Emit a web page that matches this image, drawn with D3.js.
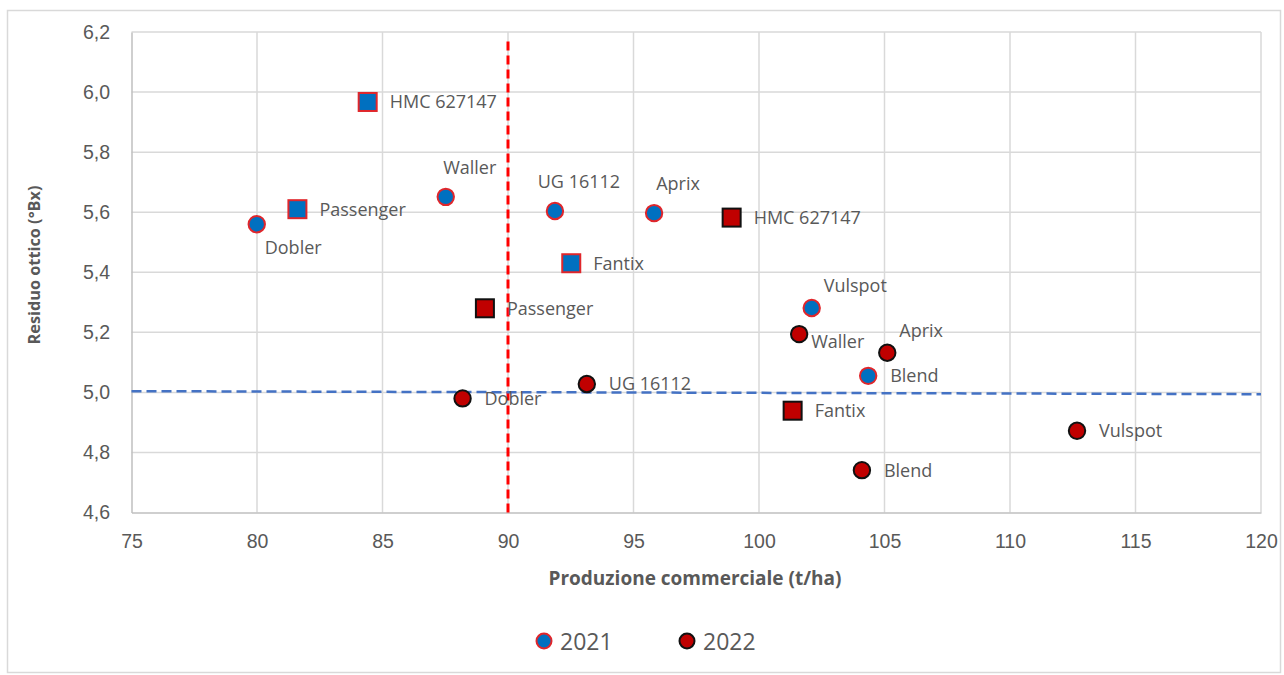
<!DOCTYPE html>
<html>
<head>
<meta charset="utf-8">
<script src="https://cdn.jsdelivr.net/npm/d3@7"></script>
<style>
  html, body { margin: 0; padding: 0; background: #ffffff; }
  svg { display: block; font-family: "Open Sans", "Noto Sans", sans-serif; }
</style>
</head>
<body>
<svg id="chart" width="1284" height="675"></svg>
<script>
// Varieties and their marker shapes
const varieties = ["Dobler", "Passenger", "HMC 627147", "Waller", "UG 16112", "Aprix", "Fantix", "Vulspot", "Blend"];
const shapes    = ["circle", "square", "square", "circle", "circle", "circle", "square", "circle", "circle"];

// Commercial yield (t/ha) and optical residue (°Bx) per year
const prod2021 = [79.99, 81.61, 84.41, 87.52, 91.87, 95.82, 92.52, 102.1, 104.35];
const brix2021 = [5.560, 5.610, 5.967, 5.651, 5.604, 5.597, 5.430, 5.281, 5.055];
const prod2022 = [88.19, 89.08, 98.91, 101.6, 93.14, 105.11, 101.34, 112.67, 104.10];
const brix2022 = [4.980, 5.280, 5.582, 5.194, 5.028, 5.132, 4.939, 4.872, 4.741];

// Where each label sits relative to its marker
const labelPos2021 = ["below", "right", "right", "above", "above", "above", "right", "aboveRight", "right"];
const labelPos2022 = ["right", "right", "right", "rightLow", "right", "aboveRight", "right", "right", "right"];

// Axis ticks
const xTicks = [75, 80, 85, 90, 95, 100, 105, 110, 115, 120];
const yTicks = [4.6, 4.8, 5.0, 5.2, 5.4, 5.6, 5.8, 6.0, 6.2];

// Reference thresholds
const yieldThresholdX = [90, 90];
const yieldThresholdY = [4.6, 6.18];
const brixThresholdX = [75, 120];
const brixThresholdY = [5.004, 4.994];

const years = ["2021", "2022"];

const svg = d3.select("#chart");
const itLocale = d3.formatLocale({ decimal: ",", thousands: ".", grouping: [3], currency: ["€", ""] });
const fmtY = itLocale.format(".1f");

const plot = { left: 131.5, right: 1261, top: 32, bottom: 512.5 };
const x = d3.scaleLinear().domain([75, 120]).range([plot.left, plot.right]);
const y = d3.scaleLinear().domain([4.6, 6.2]).range([plot.bottom, plot.top]);

// Outer frame
svg.append("rect")
  .attr("x", 7.5).attr("y", 10.5).attr("width", 1273).attr("height", 662)
  .attr("fill", "none").attr("stroke", "#d9d9d9").attr("stroke-width", 1.5);

// Grid
const grid = svg.append("g");
grid.selectAll("line.gx").data(xTicks.slice(1)).join("line")
  .attr("x1", d => x(d)).attr("x2", d => x(d))
  .attr("y1", y(6.2)).attr("y2", y(4.6))
  .attr("stroke", "#d9d9d9").attr("stroke-width", 1.5);
grid.selectAll("line.gy").data(yTicks.slice(1)).join("line")
  .attr("x1", x(75)).attr("x2", x(120))
  .attr("y1", d => y(d)).attr("y2", d => y(d))
  .attr("stroke", "#d9d9d9").attr("stroke-width", 1.5);

// Axes
const xAxis = d3.axisBottom(x).tickValues(xTicks).tickSize(0).tickPadding(22).tickFormat(d3.format("d"));
const gx = svg.append("g").attr("transform", `translate(0,${y(4.6)})`).call(xAxis);
gx.select(".domain").attr("stroke", "#bfbfbf").attr("stroke-width", 1.5);
gx.selectAll("text").attr("fill", "#595959").attr("font-size", 19.5);

const yAxis = d3.axisLeft(y).tickValues(yTicks).tickSize(0).tickPadding(21.5).tickFormat(fmtY);
const gy = svg.append("g").attr("transform", `translate(${x(75)},0)`).call(yAxis);
gy.select(".domain").attr("stroke", "#bfbfbf").attr("stroke-width", 1.5);
gy.selectAll("text").attr("fill", "#595959").attr("font-size", 19.5);

// Axis titles
svg.append("text")
  .attr("x", 695).attr("y", 585)
  .attr("text-anchor", "middle").attr("font-size", 19).attr("font-weight", "bold")
  .attr("fill", "#595959").text("Produzione commerciale (t/ha)");
svg.append("text")
  .attr("transform", "translate(40,265) rotate(-90)")
  .attr("text-anchor", "middle").attr("font-size", 16.3).attr("font-weight", "bold")
  .attr("fill", "#595959").text("Residuo ottico (°Bx)");

// Threshold lines
svg.append("line")
  .attr("x1", x(yieldThresholdX[0])).attr("x2", x(yieldThresholdX[1]))
  .attr("y1", y(yieldThresholdY[0])).attr("y2", y(yieldThresholdY[1]))
  .attr("stroke", "#ff0000").attr("stroke-width", 3).attr("stroke-dasharray", "9,5");
svg.append("line")
  .attr("x1", x(brixThresholdX[0])).attr("x2", x(brixThresholdX[1]))
  .attr("y1", y(brixThresholdY[0])).attr("y2", y(brixThresholdY[1]))
  .attr("stroke", "#4472c4").attr("stroke-width", 2.5).attr("stroke-dasharray", "10,5");

// Series styles
const styles = {
  "2021": { fill: "#0070c0", stroke: "#e0262b" },
  "2022": { fill: "#c00000", stroke: "#111111" }
};

function buildSeries(year, xs, ys, pos) {
  return varieties.map((v, i) => ({ year, name: v, shape: shapes[i], px: xs[i], py: ys[i], pos: pos[i] }));
}
const points = buildSeries("2021", prod2021, brix2021, labelPos2021)
  .concat(buildSeries("2022", prod2022, brix2022, labelPos2022));

function drawMarker(g, shape, st) {
  if (shape === "square") {
    g.append("rect").attr("x", -9).attr("y", -9).attr("width", 18).attr("height", 18)
      .attr("fill", st.fill).attr("stroke", st.stroke).attr("stroke-width", 2);
  } else {
    g.append("circle").attr("r", 8.2)
      .attr("fill", st.fill).attr("stroke", st.stroke).attr("stroke-width", 2);
  }
}

const marks = svg.append("g");
points.forEach(p => {
  const g = marks.append("g").attr("transform", `translate(${x(p.px)},${y(p.py)})`);
  drawMarker(g, p.shape, styles[p.year]);
});

// Labels on top of markers
const labels = svg.append("g").attr("font-size", 18).attr("fill", "#595959");
const offsets = {
  right:      { dx: 22, dy: 6.5, anchor: "start" },
  rightLow:   { dx: 12, dy: 14,  anchor: "start" },
  below:      { dx: 8,  dy: 29.5, anchor: "start" },
  above:      { dx: 24, dy: -23, anchor: "middle" },
  aboveRight: { dx: 12, dy: -16, anchor: "start" }
};
points.forEach(p => {
  const o = offsets[p.pos];
  labels.append("text")
    .attr("x", x(p.px) + o.dx).attr("y", y(p.py) + o.dy)
    .attr("text-anchor", o.anchor)
    .text(p.name);
});

// Legend
const legend = svg.append("g").attr("transform", "translate(544,641)");
years.forEach((yr, i) => {
  const g = legend.append("g").attr("transform", `translate(${i * 143},0)`);
  g.append("circle").attr("r", 7.5)
    .attr("fill", styles[yr].fill).attr("stroke", styles[yr].stroke).attr("stroke-width", 2);
  g.append("text").attr("x", 16).attr("y", 8.5).attr("font-size", 23).attr("fill", "#595959").text(yr);
});
</script>
</body>
</html>
